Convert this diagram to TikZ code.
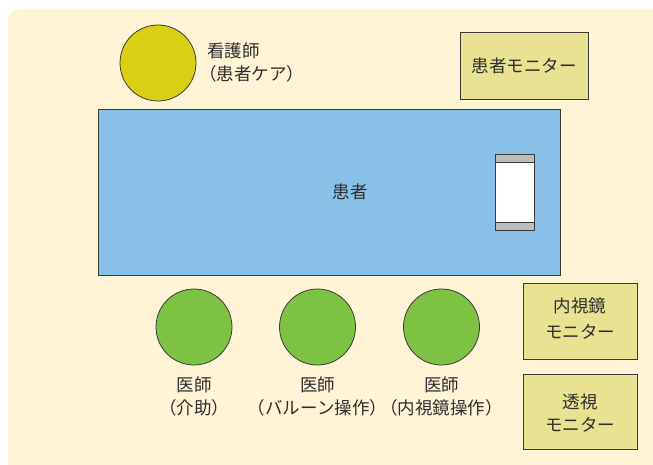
\documentclass[tikz,border=0pt]{standalone}
\usepackage{fontspec}
\setmainfont{Noto Sans CJK JP}
\definecolor{bgcream}{HTML}{FFF4D6}
\definecolor{nurseyellow}{HTML}{D8D012}
\definecolor{docgreen}{HTML}{7DC242}
\definecolor{bedblue}{HTML}{89C0E8}
\definecolor{monyellow}{HTML}{E8E292}
\definecolor{pillowgray}{HTML}{BDBDBD}
\definecolor{edge}{HTML}{3A3A3A}
\definecolor{txt}{HTML}{2E2E2E}
\begin{document}
\begin{tikzpicture}[x=1pt,y=-1pt,
  outl/.style={draw=edge,line width=0.8pt},
  person/.style={outl,circle,minimum size=76pt,inner sep=0pt},
  monbox/.style={outl,fill=monyellow},
  lbl/.style={text=txt,font=\fontsize{17.5}{23}\selectfont,align=center,inner sep=0pt}
]
\useasboundingbox (0,0) rectangle (653,465);
% background
\fill[bgcream,rounded corners=12pt] (8,9) rectangle (665,480);
% patient monitor
\draw[monbox] (460,32) rectangle (588,99);
\node[lbl] (pm) at (524,66) {患者モニター};
% nurse
\node[person,fill=nurseyellow] (nurse) at (158,63) {};
\node[lbl,anchor=west,align=left] (nursel) at (199,62) {\hspace{8pt}看護師\\（患者ケア）};
% bed
\draw[outl,fill=bedblue] (98,109) rectangle (560,275);
\node[lbl] (patient) at (350,192) {患者};
% pillow
\draw[outl,fill=white] (495,154) rectangle (534,230);
\draw[outl,fill=pillowgray] (495,154) rectangle (534,162);
\draw[outl,fill=pillowgray] (495,222) rectangle (534,230);
% doctors
\node[person,fill=docgreen] (d1) at (194,327) {};
\node[person,fill=docgreen] (d2) at (317.5,327) {};
\node[person,fill=docgreen] (d3) at (441.5,327) {};
\node[lbl] (d1l) at (194,396.5) {医師\\（介助）};
\node[lbl] (d2l) at (317.5,396.5) {医師\\（バルーン操作）};
\node[lbl] (d3l) at (441.5,396.5) {医師\\（内視鏡操作）};
% endoscope monitor
\draw[monbox] (523,283) rectangle (637,359);
\node[lbl,font=\fontsize{17.5}{26}\selectfont] (em) at (580,319) {内視鏡\\モニター};
% fluoroscopy monitor
\draw[monbox] (523,374) rectangle (637,449);
\node[lbl] (fm) at (580,413) {透視\\モニター};
\end{tikzpicture}
\end{document}
